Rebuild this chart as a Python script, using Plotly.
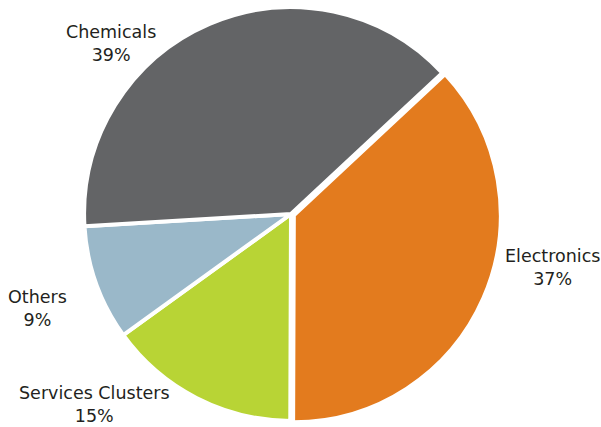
import plotly.graph_objects as go

# Share of activity by sector (percent)
sectors = ['Electronics', 'Services Clusters', 'Others', 'Chemicals']
shares = [37, 15, 9, 39]
colors = ['#E37B1E', '#B8D435', '#9AB8C9', '#636466']

# label anchor points in paper coordinates (text placed outside the pie)
label_x = [552 / 601, 94 / 601, 37 / 601, 111 / 601]
label_y = [1 - 267 / 427, 1 - 404 / 427, 1 - 308 / 427, 1 - 43 / 427]

fig = go.Figure()
fig.add_trace(go.Pie(
    labels=sectors,
    values=shares,
    sort=False,
    direction='clockwise',
    rotation=47,
    pull=[0.015, 0, 0, 0],
    marker=dict(colors=colors, line=dict(color='#FFFFFF', width=4)),
    textinfo='none',
    hoverinfo='label+percent',
    showlegend=False,
    domain=dict(x=[81 / 601, 501 / 601], y=[3 / 427, 423 / 427]),
))

total = sum(shares)
for name, val, x, y in zip(sectors, shares, label_x, label_y):
    fig.add_annotation(
        x=x, y=y, xref='paper', yref='paper',
        text=f'{name}<br>{round(100 * val / total)}%',
        showarrow=False,
        align='center',
        xanchor='center', yanchor='middle',
        font=dict(family='DejaVu Sans', size=17.5, color='#231F20'),
    )

fig.update_layout(
    width=601,
    height=427,
    margin=dict(l=0, r=0, t=0, b=0),
    paper_bgcolor='white',
    plot_bgcolor='white',
)

# drop the default page margin so the figure sits at the window's corner
fig.write_html(
    "out.html",
    config={'displayModeBar': False},
    post_script="document.body.style.margin='0';",
)
